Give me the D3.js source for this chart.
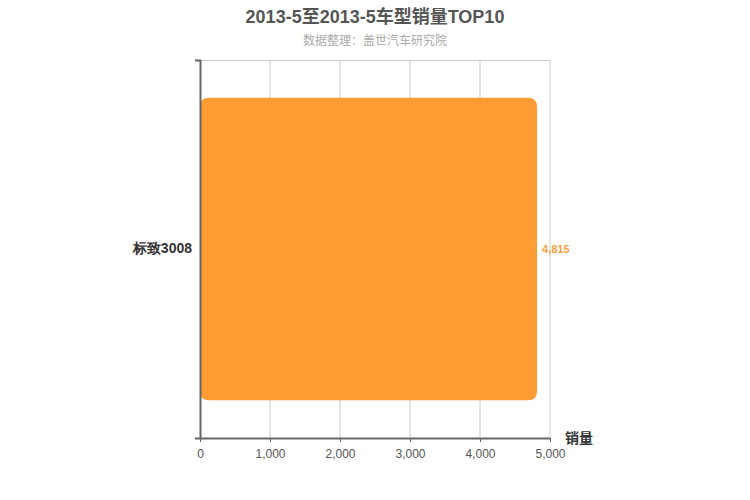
<!DOCTYPE html>
<html>
<head>
<meta charset="utf-8">
<script src="https://cdn.jsdelivr.net/npm/d3@7"></script>
<style>
  body { margin: 0; background: #fff; }
  svg { font-family: "Liberation Sans", "Noto Sans CJK SC", sans-serif; }
</style>
</head>
<body>
<div id="chart"></div>
<script>
/* DATA */
const models = ["标致3008"];
const sales = [4815];
const xTicks = [0, 1000, 2000, 3000, 4000, 5000];

const width = 750,
  height = 500,
  margin = { top: 60, bottom: 62, left: 200, right: 200 };

const svg = d3
  .select("#chart")
  .append("svg")
  .attr("width", width)
  .attr("height", height);

const xScale = d3
  .scaleLinear()
  .domain([0, 5000])
  .range([margin.left, width - margin.right]);

const yScale = d3
  .scaleBand()
  .domain(models)
  .range([margin.top, height - margin.bottom])
  .paddingInner(0.2)
  .paddingOuter(0.1);

// title
svg.append("text")
  .attr("x", 375)
  .attr("y", 23)
  .attr("text-anchor", "middle")
  .attr("font-size", 18)
  .attr("font-weight", "bold")
  .attr("fill", "#555")
  .text("2013-5至2013-5车型销量TOP10");

svg.append("text")
  .attr("x", 375)
  .attr("y", 45)
  .attr("text-anchor", "middle")
  .attr("font-size", 12)
  .attr("fill", "#aaa")
  .text("数据整理：盖世汽车研究院");

// grid
svg.append("g")
  .selectAll("line")
  .data(xTicks.slice(1))
  .join("line")
  .attr("x1", d => xScale(d))
  .attr("x2", d => xScale(d))
  .attr("y1", margin.top)
  .attr("y2", height - margin.bottom)
  .attr("stroke", "#ccc")
  .attr("stroke-width", 1);

svg.append("line")
  .attr("x1", margin.left)
  .attr("x2", width - margin.right)
  .attr("y1", margin.top + 0.5)
  .attr("y2", margin.top + 0.5)
  .attr("stroke", "#ccc");

// bars
const bar = svg.append("g")
  .selectAll("g")
  .data(models.map((m, i) => ({ name: m, value: sales[i] })))
  .join("g");

bar.append("path")
  .attr("fill", "#FF9C33")
  .attr("d", d => {
    const x0 = xScale(0), x1 = xScale(d.value);
    const y0 = yScale(d.name), y1 = y0 + yScale.bandwidth();
    const r = 9;
    return `M${x0},${y0 + r} Q${x0},${y0} ${x0 + r},${y0} L${x1 - r},${y0} Q${x1},${y0} ${x1},${y0 + r}
      L${x1},${y1 - r} Q${x1},${y1} ${x1 - r},${y1} L${x0 + r},${y1} Q${x0},${y1} ${x0},${y1 - r} Z`;
  });

bar.append("text")
  .attr("x", d => xScale(d.value) + 5)
  .attr("y", d => yScale(d.name) + yScale.bandwidth() / 2)
  .attr("dy", "0.35em")
  .attr("font-size", 11)
  .attr("font-weight", "bold")
  .attr("fill", "#F5A040")
  .text(d => d3.format(",")(d.value));

// axes
const xAxis = svg.append("g")
  .attr("transform", `translate(0,${height - margin.bottom})`)
  .call(d3.axisBottom(xScale).tickValues(xTicks).tickFormat(d3.format(",")).tickSize(4).tickSizeOuter(0));
xAxis.select(".domain").attr("stroke", "#666").attr("stroke-width", 2);
xAxis.selectAll(".tick line").attr("stroke", "#666");
xAxis.selectAll(".tick text").attr("font-size", 12).attr("fill", "#555").attr("dy", "1.1em");

const yAxis = svg.append("g")
  .attr("transform", `translate(${margin.left},0)`)
  .call(d3.axisLeft(yScale).tickSize(0).tickPadding(8).tickSizeOuter(5));
yAxis.select(".domain").attr("stroke", "#666").attr("stroke-width", 2);
yAxis.selectAll(".tick text").attr("font-size", 14).attr("font-weight", "bold").attr("fill", "#333");

svg.append("text")
  .attr("x", 565)
  .attr("y", 443)
  .attr("font-size", 14)
  .attr("font-weight", "bold")
  .attr("fill", "#333")
  .text("销量");
</script>
</body>
</html>
